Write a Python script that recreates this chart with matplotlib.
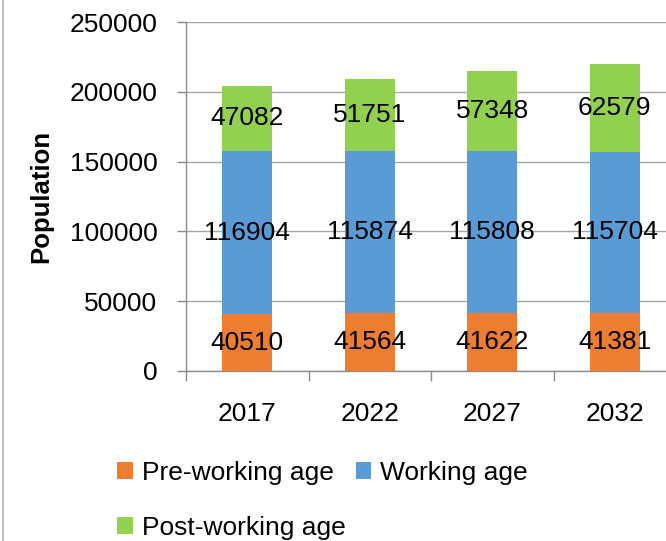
import matplotlib
matplotlib.use("Agg")
import matplotlib.pyplot as plt
from matplotlib.patches import Patch
from matplotlib.lines import Line2D
import numpy as np

years = ["2017", "2022", "2027", "2032"]
pre_working = [40510, 41564, 41622, 41381]
working = [116904, 115874, 115808, 115704]
post_working = [47082, 51751, 57348, 62579]

series_names = ["Pre-working age", "Working age", "Post-working age"]
colors = ["#ED7D31", "#5B9BD5", "#92D050"]

plt.rcParams["font.family"] = ["Liberation Sans", "DejaVu Sans"]
FS = 19

W, H = 666, 541
fig = plt.figure(figsize=(W / 100, H / 100), dpi=100)

# plot area in pixel coordinates (left, bottom-from-top, width, height)
left, top, bottom = 186, 22, 371
ax_w = 490
ax = fig.add_axes([left / W, 1 - bottom / H, ax_w / W, (bottom - top) / H])

x = np.arange(len(years))
bar_w = 0.41
bottoms = np.zeros(len(years))
handles = []
for vals, name, col in zip([pre_working, working, post_working], series_names, colors):
    vals = np.array(vals, dtype=float)
    ax.bar(x, vals, bar_w, bottom=bottoms, color=col, zorder=3, label=name)
    for xi, b, v in zip(x, bottoms, vals):
        ax.text(xi, b + v / 2, f"{int(v)}", ha="center", va="center",
                fontsize=FS, color="black", zorder=4)
    bottoms += vals
    handles.append(Patch(facecolor=col, edgecolor="none", label=name))

ax.set_xlim(-0.5, len(years) - 0.5)
ax.set_ylim(0, 250000)
ax.set_yticks(np.arange(0, 250001, 50000))
ax.yaxis.grid(True, color="#A6A6A6", linewidth=1, zorder=0)
ax.set_axisbelow(True)

for s in ["top", "right"]:
    ax.spines[s].set_visible(False)
for s in ["left", "bottom"]:
    ax.spines[s].set_color("#8C8C8C")
    ax.spines[s].set_linewidth(1)

ax.tick_params(axis="y", direction="out", length=6.5, width=1, color="#8C8C8C",
               labelsize=FS, pad=14)

# category boundaries carry the tick marks, centres carry the labels
ax.set_xticks(np.arange(-0.5, len(years)), labels=[""] * (len(years) + 1))
ax.set_xticks(x, labels=years, minor=True)
ax.tick_params(axis="x", which="major", direction="out", length=7.5, width=1,
               color="#8C8C8C")
ax.tick_params(axis="x", which="minor", length=0, labelsize=FS, pad=22)

ax.set_ylabel("Population", fontsize=18.5, fontweight="bold", labelpad=12)

# chart frame edge on the left
fig.add_artist(Line2D([2.5 / W, 2.5 / W], [0, 1], color="#BFBFBF", linewidth=1.5,
                      transform=fig.transFigure))

ordered = [handles[0], handles[2], handles[1]]
fig.legend(handles=ordered, labels=[h.get_label() for h in ordered],
           ncol=2, loc="upper left", bbox_to_anchor=(117 / W, 1 - 461 / H),
           bbox_transform=fig.transFigure, frameon=False, fontsize=FS,
           handlelength=0.6, handleheight=0.6, handletextpad=0.34,
           columnspacing=0.38, labelspacing=1.16, borderpad=0, borderaxespad=0)

fig.savefig("out.png", dpi=100)
